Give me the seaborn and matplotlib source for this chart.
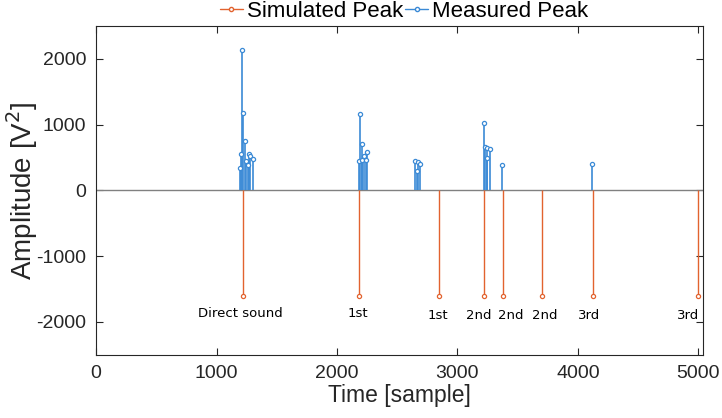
import numpy as np
import pandas as pd
import seaborn as sns
import matplotlib.pyplot as plt
from matplotlib.lines import Line2D

# measured peaks (sample, amplitude)
meas_x = [1193, 1202, 1215, 1223, 1237, 1246, 1260, 1271, 1282, 1304,
          2182, 2193, 2204, 2210, 2223, 2240, 2246,
          2650, 2663, 2672, 2686,
          3220, 3226, 3242, 3245, 3272, 3366,
          4120]
meas_y = [346, 550, 2130, 1170, 750, 450, 380, 550, 530, 475,
          443, 1160, 702, 463, 524, 458, 590,
          448, 302, 438, 397,
          1030, 660, 645, 490, 630, 385,
          400]

# simulated peaks
sim_x = [1217, 2184, 2845, 3222, 3376, 3700, 4121, 5000]
sim_y = [-1600] * 8
sim_labels = ['Direct sound', '1st', '1st', '2nd', '2nd', '2nd', '3rd', '3rd']

# label placement (layout only)
lab_dx = [-21, -8, -9, -49, 68, 21, -30, -87]
lab_y = [-1875, -1875, -1900, -1900, -1900, -1900, -1900, -1900]

blue = '#3b8ad6'
orange = '#e2632f'
ink = '#262626'

meas = pd.DataFrame({'x': meas_x, 'y': meas_y})
sim = pd.DataFrame({'x': sim_x, 'y': sim_y})

sns.set_style('white')
plt.rcParams['font.family'] = ['Liberation Sans', 'DejaVu Sans']
plt.rcParams['axes.unicode_minus'] = False

fig = plt.figure(figsize=(7.22, 4.18), dpi=100)
ax = fig.add_axes([0.133, 0.151, 0.841, 0.787])

ax.axhline(0, color='#808080', lw=1.0, zorder=1)
ax.vlines(sim['x'], 0, sim['y'], color=orange, lw=1.0, zorder=2)
ax.vlines(meas['x'], 0, meas['y'], color=blue, lw=1.2, zorder=3)
sns.scatterplot(data=sim, x='x', y='y', ax=ax, marker='o', s=9,
                facecolor='white', edgecolor=orange, linewidth=0.9, zorder=4)
sns.scatterplot(data=meas, x='x', y='y', ax=ax, marker='o', s=9,
                facecolor='white', edgecolor=blue, linewidth=0.9, zorder=5)

for x, dx, y, t in zip(sim_x, lab_dx, lab_y, sim_labels):
    ax.text(x + dx, y, t, ha='center', va='center', fontsize=9.5,
            family='DejaVu Sans', color='black')

ax.set_xlim(0, 5040)
ax.set_ylim(-2500, 2500)
ax.set_xticks([0, 1000, 2000, 3000, 4000, 5000])
ax.set_yticks([-2000, -1000, 0, 1000, 2000])
ax.tick_params(direction='in', length=5, width=0.8, labelsize=14,
               bottom=True, left=True, top=True, right=True,
               colors=ink, labelcolor=ink)
ax.tick_params(axis='x', pad=7)
ax.tick_params(axis='y', pad=7)
for sp in ax.spines.values():
    sp.set_color(ink)
    sp.set_linewidth(0.8)
ax.set_xlabel('Time [sample]', fontsize=16.5, color=ink, labelpad=2)
ax.set_ylabel('Amplitude [V$^2$]', fontsize=20, color=ink, labelpad=-3)

handles = [
    Line2D([], [], color=orange, lw=1.0, marker='o', ms=3,
           mfc='white', mec=orange),
    Line2D([], [], color=blue, lw=1.0, marker='o', ms=3,
           mfc='white', mec=blue),
]
fig.legend(handles, ['Simulated Peak', 'Measured Peak'], loc='upper center',
           bbox_to_anchor=(0.56, 0.998), ncol=2, frameon=False, fontsize=16,
           handlelength=1.0, handletextpad=0.2, columnspacing=0.1,
           numpoints=1, borderpad=0.0, borderaxespad=0, labelcolor='black')

fig.savefig('out.png', dpi=100)
